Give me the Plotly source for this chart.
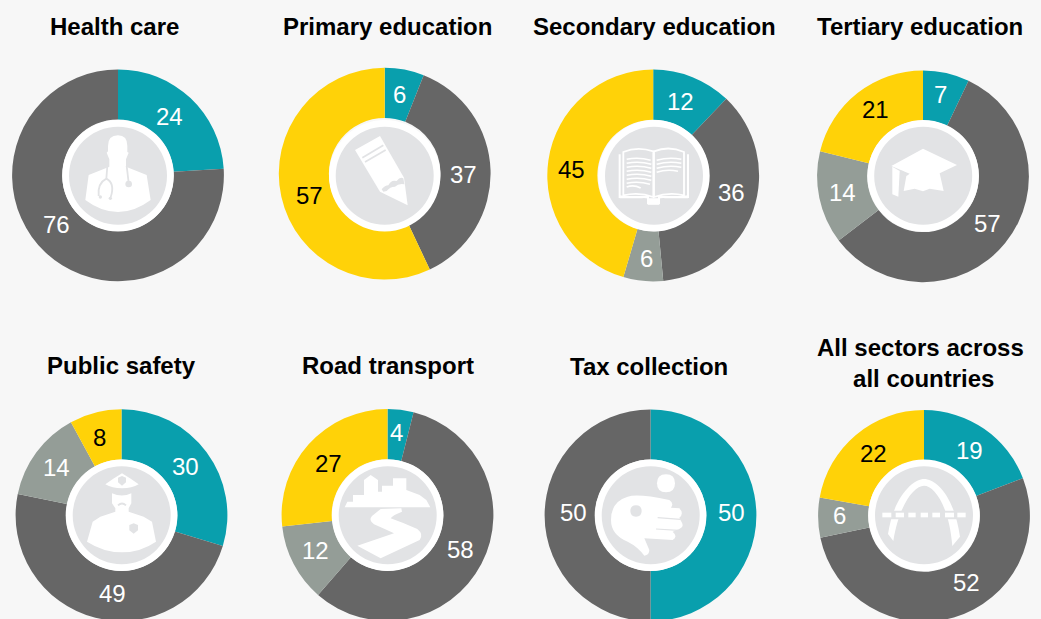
import re
import plotly.graph_objects as go

W, H = 1041, 640

sectors = ["Health care", "Primary education", "Secondary education", "Tertiary education",
           "Public safety", "Road transport", "Tax collection", "All sectors across<br>&nbsp;all countries"]
health_care = [24, 76, 0, 0]
primary_education = [6, 37, 0, 57]
secondary_education = [12, 36, 6, 45]
tertiary_education = [7, 57, 14, 21]
public_safety = [30, 49, 14, 8]
road_transport = [4, 58, 12, 27]
tax_collection = [50, 50, 0, 0]
all_sectors = [19, 52, 6, 22]
series = [health_care, primary_education, secondary_education, tertiary_education,
          public_safety, road_transport, tax_collection, all_sectors]
parts = ["Part A", "Part B", "Part C", "Part D"]

colors = ["#099FAD", "#666666", "#949D97", "#FFD208"]
text_colors = ["white", "white", "white", "black"]
BG = "#F7F7F7"
DISC = "#E2E3E5"
FONT = "Liberation Sans"

# layout: pie centre x,y ; disc centre x,y ; title x,y ; icon-crop origin ; label centres per part
pie_c = [(118, 175.3), (384.7, 173.7), (653.2, 175.5), (923, 176.3),
         (121.5, 515.2), (387.5, 515), (650.5, 515.3), (924, 516)]
disc_c = [(118, 175.7), (384.7, 175.7), (654, 175.7), (923.2, 175.7),
          (121.7, 515.3), (387.7, 515.3), (650.7, 515.3), (924, 515.3)]
title_c = [(114, 26), (387, 26), (654, 26), (919.5, 26), (121.7, 365), (388, 365), (649, 366), (920, 362.5)]
origin = [(68, 126), (335, 126), (604, 126), (873, 126), (72, 465), (338, 465), (601, 465), (874, 465)]
label_c = [
    [(169.3, 116), (56, 224.3), None, None],
    [(399.7, 94.7), (463.7, 174.3), None, (309.3, 195.7)],
    [(680.7, 101.7), (731.3, 192.3), (646, 258.3), (571.7, 169.7)],
    [(940.7, 94.7), (987.7, 223.7), (842.7, 192.7), (875.3, 109.7)],
    [(185, 466.7), (112.3, 593.7), (56.7, 467.7), (99.3, 437)],
    [(396.3, 432.3), (460.3, 549), (315, 550.3), (328, 463.7)],
    [(731.3, 512.7), (573, 512.7), None, None],
    [(969.3, 450), (966.3, 582.3), (839.3, 515.3), (873.3, 453.7)],
]
R = 105.9


def P(x, y):
    return x / W, 1 - y / H


def conv(path, o):
    def sub(m):
        px, py = P(o[0] + float(m.group(1)) / 3, o[1] + float(m.group(2)) / 3)
        return f"{px:.5f},{py:.5f}"
    return re.sub(r"(-?\d+\.?\d*),(-?\d+\.?\d*)", sub, path)


def fill(p, c="white"):
    return dict(d=p, fill=c, line=None)


def stroke(p, c, w):
    return dict(d=p, fill=None, line=(c, w))


def dotq(x, y, r):
    k = r
    return (f"M{x-k},{y} Q{x-k},{y-k} {x},{y-k} Q{x+k},{y-k} {x+k},{y} "
            f"Q{x+k},{y+k} {x},{y+k} Q{x-k},{y+k} {x-k},{y} Z")


book_lines = []
for y, x1, x2 in [(100, 68, 140), (112, 68, 142), (124, 68, 142), (136, 68, 142),
                  (148, 68, 142), (160, 68, 142), (172, 68, 138), (183, 68, 110)]:
    book_lines.append(stroke(f"M{x1},{y} Q{(x1+x2)/2},{y-8} {x2},{y+3}", "white", 1.6))
for y, x1, x2 in [(100, 158, 232), (112, 158, 232), (124, 158, 232), (136, 158, 222)]:
    book_lines.append(stroke(f"M{x1},{y+3} Q{(x1+x2)/2},{y-8} {x2},{y}", "white", 1.6))

icons = [
    # doctor
    [fill("M120,60 Q120,28 150,28 Q178,28 178,60 L178,78 L182,80 L174,100 L174,122 L236,147 L248,222 "
          "Q200,258 150,258 Q100,258 52,222 L62,147 L124,122 L124,100 L116,80 L120,76 Z"),
     stroke("M118,120 L115,158 Q88,172 92,210", DISC, 1.8),
     stroke("M115,158 Q142,172 128,214", DISC, 1.8),
     stroke("M176,120 L182,170", DISC, 1.8),
     fill(dotq(182, 174, 10), DISC), fill(dotq(97, 213, 5), DISC), fill(dotq(127, 217, 5), DISC)],
    # pencil
    [fill("M60,72 L135,30 L207,155 L218,238 L135,197 Z"),
     stroke("M82,95 L145,58", DISC, 1.8), stroke("M90,108 L152,72", DISC, 1.8),
     fill("M140,190 Q150,178 160,178 Q168,160 185,165 Q195,152 205,157 L208,175 Q190,172 180,182 "
          "Q165,182 155,195 L145,197 Z", DISC)],
    # book
    [stroke("M47,85 L47,213 L132,213 L132,232 L165,232 L165,213 L252,213 L252,85", "white", 2),
     stroke("M58,78 Q100,60 148,76 L148,213 Q105,197 58,208 Z", "white", 1.8),
     stroke("M150,76 Q195,58 240,78 L240,208 Q195,197 150,213 Z", "white", 1.8),
     fill("M47,208 L132,218 L132,236 L165,236 L165,218 L252,208 L252,217 L47,217 Z")] + book_lines,
    # mortarboard
    [fill("M55,120 L150,68 L252,117 L200,142 L212,195 L170,188 L150,196 L125,188 L92,195 L100,150 L110,143 Z"),
     fill("M58,122 L80,135 L76,212 L58,205 Z"),
     stroke("M85,135 L105,146", DISC, 1.2)],
    # police officer
    [fill("M100,58 Q125,40 150,25 Q175,40 200,58 Q180,70 150,70 Q120,70 100,58 Z"),
     fill("M138,38 L150,33 L162,38 L162,52 L150,62 L138,52 Z", DISC),
     fill("M120,85 Q150,98 178,85 L178,115 L170,130 L170,140 L215,155 L240,170 L252,230 "
          "Q205,262 150,262 Q95,262 45,230 L62,170 L85,155 L130,140 L130,130 L120,115 Z"),
     stroke("M138,121 Q150,110 162,121", DISC, 1.8),
     fill("M172,180 L185,175 L198,180 L198,196 L185,206 L172,196 Z", DISC)],
    # city and road
    [fill("M20,127 L28,110 L45,110 L45,90 L78,90 L78,45 L98,30 L120,45 L120,80 L132,80 L132,62 L165,62 "
          "L165,40 L205,40 L205,75 L245,90 L265,105 L277,127 Z"),
     fill("M128,132 L190,130 L192,140 Q165,150 158,160 Q200,175 238,192 Q258,208 245,225 L128,280 L58,242 "
          "L168,205 Q140,192 108,178 Q90,165 102,153 Z")],
    # hand and coin
    [fill(dotq(195, 55, 27)),
     fill("M30,165 Q30,110 80,95 Q110,85 205,105 Q220,115 210,128 L235,130 Q250,145 235,158 L240,168 "
          "Q252,185 235,192 L215,200 Q232,215 215,225 L130,220 L145,255 Q145,270 130,272 "
          "Q110,245 80,230 Q30,210 30,165 Z"),
     fill(dotq(105, 138, 17), DISC),
     stroke("M170,158 L238,163", DISC, 1.2), stroke("M165,192 L232,196", DISC, 1.2)],
    # arch and dashed road
    [fill("M42,207 C60,90 120,42 150,42 C185,42 240,90 258,215 L235,243 C225,120 180,62 150,62 "
          "C120,62 75,120 58,228 Z"),
     fill("M25,137 L275,137 L275,163 L25,163 Z", DISC)] +
    [fill(f"M{a},143 L{b},143 L{b},157 L{a},157 Z")
     for a, b in [(25, 52), (65, 90), (103, 125), (140, 162), (175, 198), (213, 240), (250, 275)]],
]

fig = go.Figure()
for name, vals, c in zip(sectors, series, pie_c):
    keep = [i for i, v in enumerate(vals) if v > 0]
    fig.add_trace(go.Pie(
        labels=[parts[i] for i in keep],
        values=[vals[i] for i in keep],
        name=name.replace("<br>&nbsp;", " "),
        sort=False, direction="clockwise", rotation=0, hole=0.527,
        marker=dict(colors=[colors[i] for i in keep], line=dict(width=0)),
        textinfo="none",
        domain=dict(x=[(c[0] - R) / W, (c[0] + R) / W],
                    y=[1 - (c[1] + R) / H, 1 - (c[1] - R) / H]),
        showlegend=False, hoverinfo="skip",
    ))

shapes = []
for d, o, icon in zip(disc_c, origin, icons):
    for r, col in [(55.7, "white"), (49, DISC)]:
        x0, y0 = P(d[0] - r, d[1] - r)
        x1, y1 = P(d[0] + r, d[1] + r)
        shapes.append(dict(type="circle", xref="paper", yref="paper", x0=x0, x1=x1, y0=y0, y1=y1,
                           fillcolor=col, line=dict(width=0), layer="above"))
    for item in icon:
        s = dict(type="path", xref="paper", yref="paper", path=conv(item["d"], o), layer="above")
        if item["fill"]:
            s["fillcolor"] = item["fill"]
            s["line"] = dict(width=0)
        else:
            s["line"] = dict(color=item["line"][0], width=item["line"][1])
        shapes.append(s)

annotations = []
for t, c in zip(sectors, title_c):
    x, y = P(*c)
    annotations.append(dict(text=f"<b>{t}</b>", x=x, y=y, xref="paper", yref="paper", showarrow=False,
                            xanchor="center", yanchor="middle", align="center",
                            font=dict(family=FONT, size=24, color="black")))
for vals, spots in zip(series, label_c):
    for i, (v, spot) in enumerate(zip(vals, spots)):
        if v > 0:
            x, y = P(*spot)
            annotations.append(dict(text=str(v), x=x, y=y, xref="paper", yref="paper", showarrow=False,
                                    xanchor="center", yanchor="middle",
                                    font=dict(family=FONT, size=24, color=text_colors[i])))

fig.update_layout(width=W, height=H, margin=dict(l=0, r=0, t=0, b=0), paper_bgcolor=BG, plot_bgcolor=BG,
                  shapes=shapes, annotations=annotations, showlegend=False)

fig.write_html("out.html", config=dict(displayModeBar=False),
               post_script="document.body.style.margin='0';document.body.style.overflow='hidden';"
                           "document.documentElement.style.overflow='hidden';")
